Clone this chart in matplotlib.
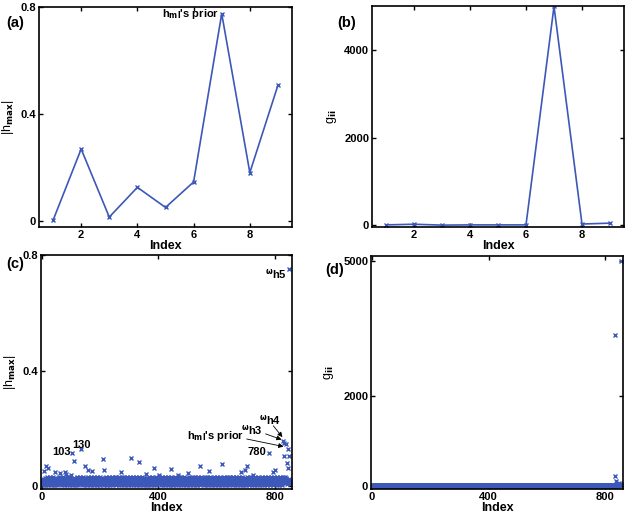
import numpy as np
import matplotlib
matplotlib.use('Agg')
import matplotlib.pyplot as plt

plt.rcParams['font.family'] = ['Liberation Sans', 'DejaVu Sans']
plt.rcParams['font.weight'] = 'bold'
plt.rcParams['mathtext.default'] = 'bf'

BLUE = '#3c58b8'

# panels (a) and (b): 9 candidates
idx9 = [1, 2, 3, 4, 5, 6, 7, 8, 9]
h9 = [0.004, 0.27, 0.016, 0.127, 0.052, 0.147, 0.775, 0.182, 0.508]
g9 = [10, 25, 5, 10, 10, 10, 5000, 30, 50]

# panels (c) and (d): dense band, one digit per index
h_band_digits = [
    "36275146382571649352817463925184736251947362815374",
    "25163748291536472815364927153846271593648251739462",
    "41852637194825361749283516472938154627381946253718",
    "52736184925371648293517462839157364825193746285139",
    "13647285396142758361924715386249175362849163725481",
    "64829173546281937465218397452816394725183649271538",
    "27391846527381946253718492635184729365148273916452",
    "48153726941835267194382561749283615472839164527386",
    "35926481735294618372549163827451936284715392648172",
    "71846352918475263819472536184927356184293746518273",
    "16375294861537428196354729183645271938465271839465",
    "53284716392847165392817463529184736251849372615847",
    "29461837526194837265148392715463829174635281947362",
    "84725139648271539462817354926183745291836472519384",
    "36198427356184927365481927354618293746152839471625",
    "47263819542738164952837164592837461529384716253947",
    "25837461928374651938247165392847516392847162538497",
    "3524",
]
g_band_digits = [
    "23423132432143423142341234123421432413241324132432",
    "32413241324132432142341324132413241342314231423142",
    "14231423412341234123421342314234132413241324132413",
    "23142314231423412342134231423413241324132413241324",
    "41324132413241324132432143214321432143214321432142",
    "32143214321432143214234123412341234123412341234123",
    "24132413241324132413241324132413241342314231423142",
    "13241324132413241342314231423142314234123412341234",
    "42314231423142314231423142314213421342134213421342",
    "31423142314231423412341234123412341234123412341234",
    "24132413241324132413241324132413241324132413241324",
    "13241324132413241324132413241324132413241324132413",
    "42314231423142314231423142314231423142314231423142",
    "31423142314231423142314231423142314231423142314231",
    "24132413241324132413241324132413241324132413241324",
    "13241324132413241324132413241324132413241324132413",
    "42314231423142314231423142314231423142314231424353",
    "3534",
]

# points standing out of the band in (c): index -> |h_max|
h_out_idx = [9, 15, 21, 44, 61, 78, 84, 101, 103, 110, 133, 147, 158, 173,
             210, 215, 250, 273, 307, 333, 359, 387, 404, 445, 468, 502,
             542, 576, 620, 657, 685, 697, 705, 725, 780, 794, 803,
             829, 832, 834, 838, 842, 846, 847, 849, 851]
h_out_val = [0.054, 0.07, 0.062, 0.05, 0.044, 0.05, 0.042, 0.038, 0.115, 0.088,
             0.128, 0.068, 0.056, 0.054, 0.095, 0.056, 0.033, 0.05, 0.099, 0.085,
             0.042, 0.062, 0.038, 0.059, 0.038, 0.044, 0.068, 0.054, 0.076,
             0.033, 0.05, 0.056, 0.071, 0.038, 0.114, 0.05, 0.056,
             0.155, 0.149, 0.103, 0.147, 0.079, 0.062, 0.128, 0.103, 0.751]

# points standing out in (d): index -> g_ii
g_out_idx = [831, 833, 835, 840, 846, 853]
g_out_val = [220, 3350, 110, 60, 80, 5000]

hb = ''.join(h_band_digits)
gb = ''.join(g_band_digits)
n = min(len(hb), len(gb))
idx = np.arange(1, n + 1)
h_all = np.array([int(c) for c in hb[:n]]) * 0.0035
g_all = np.array([int(c) for c in gb[:n]]) * 8.0
for i, v in zip(h_out_idx, h_out_val):
    h_all[i - 1] = v
for i, v in zip(g_out_idx, g_out_val):
    g_all[i - 1] = v

W, H = 629, 513
fig = plt.figure(figsize=(W / 100, H / 100), dpi=100)


def box(l, r, t, b):
    return fig.add_axes([l / W, 1 - b / H, (r - l) / W, (b - t) / H])


def style(ax):
    ax.tick_params(direction='in', top=True, right=True, length=3, width=1,
                   labelsize=8, pad=2)
    for lab in ax.get_xticklabels() + ax.get_yticklabels():
        lab.set_fontweight('bold')
    for s in ax.spines.values():
        s.set_linewidth(1.2)
    ax.set_xlabel('Index', fontsize=9, fontweight='bold', labelpad=0)


ax_a = box(39, 292, 7, 227)
ax_b = box(372, 624, 6, 227)
ax_c = box(41, 292, 255, 489)
ax_d = box(371, 623, 256, 489)

# (a)
ax_a.plot(idx9, h9, '-x', color=BLUE, lw=1.2, ms=3)
ax_a.set_xlim(0.5, 9.5)
ax_a.set_ylim(-0.021, 0.8)
ax_a.set_xticks([2, 4, 6, 8])
ax_a.set_yticks([0, 0.4, 0.8])
ax_a.set_yticklabels(['0', '0.4', '0.8'])
ax_a.set_ylabel(r'|h$_{max}$|', fontsize=9)
ax_a.yaxis.set_label_coords(-0.092, 0.5)
ax_a.text(6.9, 0.773, r"h$_{ml}$'s prior", fontsize=8, ha='right', va='center')
style(ax_a)

# (b)
ax_b.plot(idx9, g9, '-x', color=BLUE, lw=1.2, ms=3)
ax_b.set_xlim(0.5, 9.5)
ax_b.set_ylim(-38, 5010)
ax_b.set_xticks([2, 4, 6, 8])
ax_b.set_yticks([0, 2000, 4000])
ax_b.set_ylabel(r'g$_{ii}$', fontsize=9)
ax_b.yaxis.set_label_coords(-0.13, 0.5)
style(ax_b)

# (c)
ax_c.plot(idx, h_all, 'x', color=BLUE, ms=3, mew=1)
ax_c.set_xlim(-3, 860)
ax_c.set_ylim(-0.01, 0.8)
ax_c.set_xticks([0, 400, 800])
ax_c.set_yticks([0, 0.4, 0.8])
ax_c.set_yticklabels(['0', '0.4', '0.8'])
ax_c.set_ylabel(r'|h$_{max}$|', fontsize=9)
ax_c.yaxis.set_label_coords(-0.092, 0.5)

ax_c.text(842, 0.733, r'$^{\omega}$h5', fontsize=8, ha='right', va='center')
ax_c.text(823, 0.23, r'$^{\omega}$h4', fontsize=8, ha='right', va='center')
ax_c.text(760, 0.195, r'$^{\omega}$h3', fontsize=8, ha='right', va='center')
ax_c.text(694, 0.174, r"h$_{ml}$'s prior", fontsize=8, ha='right', va='center')
ax_c.text(99, 0.118, '103', fontsize=8, ha='right', va='center')
ax_c.text(103, 0.142, '130', fontsize=8, ha='left', va='center')
ax_c.text(771, 0.117, '780', fontsize=8, ha='right', va='center')
arrow = dict(arrowstyle='-|>', color='k', lw=0.6, mutation_scale=7)
ax_c.annotate('', xy=(833, 0.162), xytext=(790, 0.216), arrowprops=arrow)
ax_c.annotate('', xy=(833, 0.158), xytext=(760, 0.184), arrowprops=arrow)
ax_c.annotate('', xy=(840, 0.135), xytext=(695, 0.165), arrowprops=arrow)
style(ax_c)

# (d)
ax_d.plot(idx, g_all, 'x', color=BLUE, ms=3, mew=1)
ax_d.set_xlim(-2, 860)
ax_d.set_ylim(-60, 5100)
ax_d.set_xticks([0, 400, 800])
ax_d.set_yticks([0, 2000, 5000])
ax_d.set_ylabel(r'g$_{ii}$', fontsize=9)
ax_d.yaxis.set_label_coords(-0.14, 0.5)
style(ax_d)

for lab, x, y in [('(a)', 6, 23), ('(b)', 337, 23), ('(c)', 6, 264), ('(d)', 325, 270)]:
    fig.text(x / W, 1 - y / H, lab, fontsize=10.5, fontweight='bold', va='center')

fig.savefig('out.png', dpi=100)
